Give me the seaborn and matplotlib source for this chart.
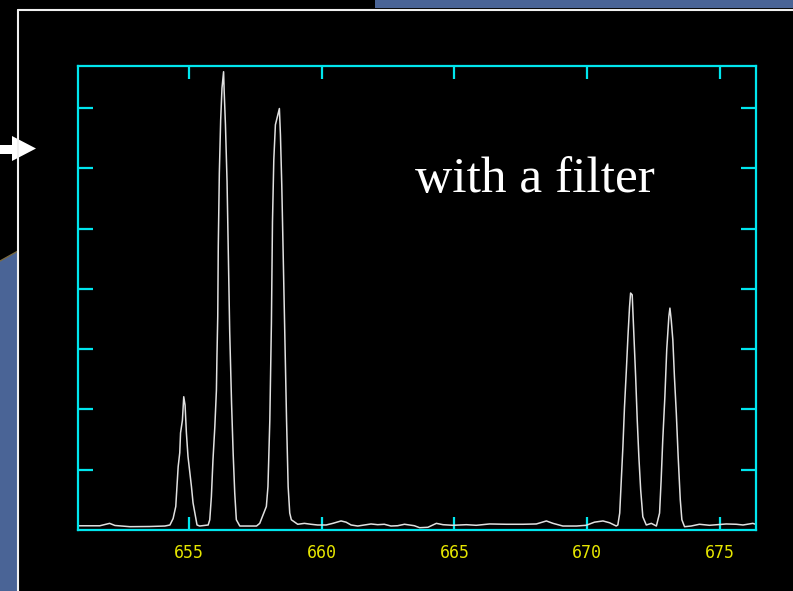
import matplotlib
matplotlib.use("Agg")
import matplotlib.pyplot as plt
from matplotlib.patches import Polygon, Rectangle
from matplotlib.lines import Line2D
import seaborn as sns
import pandas as pd

# Spectrum (wavelength in nm, intensity in tick units)
wavelength = [
    650.82, 651.65, 652.02, 652.22, 652.78, 653.53, 654.10, 654.29, 654.41, 654.51,
    654.60, 654.66, 654.69, 654.76, 654.79, 654.81, 654.86, 654.91, 654.97, 655.04,
    655.10, 655.16, 655.23, 655.31, 655.41, 655.73, 655.79, 655.85, 655.91, 655.98,
    656.04, 656.06, 656.09, 656.11, 656.15, 656.20, 656.25, 656.31, 656.33, 656.38,
    656.44, 656.49, 656.54, 656.61, 656.67, 656.73, 656.79, 656.92, 657.55, 657.67,
    657.92, 657.98, 658.05, 658.11, 658.15, 658.20, 658.26, 658.32, 658.41, 658.45,
    658.50, 658.55, 658.61, 658.68, 658.74, 658.80, 658.86, 659.05, 659.10, 659.35,
    659.60, 659.85, 660.17, 660.42, 660.73, 660.92, 661.11, 661.36, 661.61, 661.86,
    662.11, 662.36, 662.61, 662.86, 663.12, 663.49, 663.69, 664.00, 664.32, 664.57,
    664.94, 665.45, 665.82, 666.32, 666.95, 667.58, 668.08, 668.46, 668.71, 669.08,
    669.59, 669.96, 670.27, 670.59, 670.84, 671.09, 671.15, 671.22, 671.28, 671.34,
    671.40, 671.47, 671.53, 671.59, 671.63, 671.69, 671.74, 671.82, 671.88, 671.94,
    672.01, 672.09, 672.22, 672.41, 672.60, 672.72, 672.78, 672.84, 672.92, 672.99,
    673.07, 673.11, 673.16, 673.22, 673.28, 673.35, 673.42, 673.50, 673.56, 673.66,
    673.91, 674.22, 674.60, 675.23, 675.61, 675.86, 676.23, 676.33,
]
intensity = [
    0.07, 0.07, 0.11, 0.075, 0.055, 0.058, 0.066, 0.083, 0.19, 0.39,
    1.05, 1.28, 1.61, 1.82, 2.07, 2.21, 2.07, 1.61, 1.22, 0.95,
    0.72, 0.45, 0.28, 0.083, 0.066, 0.083, 0.17, 0.55, 1.16, 1.71,
    2.32, 2.87, 3.54, 4.70, 5.92, 6.80, 7.33, 7.60, 7.30, 6.72,
    5.78, 4.51, 3.29, 2.10, 1.27, 0.61, 0.17, 0.066, 0.066, 0.11,
    0.39, 0.72, 1.82, 3.43, 5.11, 6.14, 6.72, 6.83, 6.99, 6.55,
    5.72, 4.64, 3.43, 1.82, 0.72, 0.28, 0.17, 0.11, 0.095, 0.11,
    0.095, 0.083, 0.083, 0.11, 0.15, 0.13, 0.083, 0.066, 0.083, 0.10,
    0.088, 0.095, 0.066, 0.071, 0.095, 0.071, 0.038, 0.045, 0.11, 0.088,
    0.078, 0.088, 0.078, 0.10, 0.095, 0.095, 0.10, 0.15, 0.11, 0.066,
    0.066, 0.078, 0.13, 0.15, 0.12, 0.066, 0.083, 0.28, 0.83, 1.38,
    2.04, 2.65, 3.21, 3.70, 3.93, 3.90, 3.37, 2.54, 1.82, 1.22,
    0.66, 0.22, 0.083, 0.11, 0.066, 0.28, 0.83, 1.49, 2.21, 2.99,
    3.54, 3.68, 3.48, 3.15, 2.54, 1.94, 1.22, 0.50, 0.17, 0.055,
    0.066, 0.095, 0.078, 0.10, 0.095, 0.083, 0.11, 0.095,
]
x_ticks = [655, 660, 665, 670, 675]
x_tick_labels = ["655", "660", "665", "670", "675"]
y_ticks = [1, 2, 3, 4, 5, 6, 7]
label_text = "with a filter"

df = pd.DataFrame({"wavelength": wavelength, "intensity": intensity})

sns.set_theme(style="dark")
W, H = 793, 591
fig = plt.figure(figsize=(W / 100, H / 100), dpi=100, facecolor="black")

def fxy(x, y):
    return (x / W, 1 - y / H)

# slide background pieces
fig.patches.append(Rectangle(fxy(375, 8), (W - 375) / W, 8 / H, transform=fig.transFigure,
                             facecolor="#4a6496", edgecolor="none"))
fig.patches.append(Polygon([fxy(0, 261), fxy(18, 251), fxy(18, 591), fxy(0, 591)],
                           closed=True, transform=fig.transFigure,
                           facecolor="#4a6496", edgecolor="none"))
fig.lines.append(Line2D([0 / W, 18 / W], [1 - 261 / H, 1 - 251 / H], transform=fig.transFigure,
                        color="#7a6a40", lw=1))
fig.lines.append(Line2D([18 / W, 1], [1 - 9.5 / H, 1 - 9.5 / H], transform=fig.transFigure,
                        color="#f0f0f0", lw=1.5))
fig.lines.append(Line2D([18 / W, 18 / W], [1 - 9.5 / H, 0], transform=fig.transFigure,
                        color="#f0f0f0", lw=1.5))
# arrow
fig.patches.append(Polygon([fxy(0, 145), fxy(12, 145), fxy(12, 136), fxy(36, 148.5),
                            fxy(12, 161), fxy(12, 154), fxy(0, 154)],
                           closed=True, transform=fig.transFigure,
                           facecolor="white", edgecolor="none"))

ax = fig.add_axes([78 / W, 1 - 530 / H, (756 - 78) / W, (530 - 66) / H])
ax.set_facecolor("black")

sns.lineplot(data=df, x="wavelength", y="intensity", ax=ax, color="#e0e0e0",
             linewidth=1.1, estimator=None, sort=False)

ax.set_xlim(650.83, 676.35)
ax.set_ylim(0, 7.695)
ax.set_xlabel("")
ax.set_ylabel("")

cyan = "#00e6ee"
for s in ax.spines.values():
    s.set_visible(True)
    s.set_color(cyan)
    s.set_linewidth(1.6)

ax.set_xticks(x_ticks)
ax.set_xticklabels(x_tick_labels)
ax.set_yticks(y_ticks)
ax.set_yticklabels([])
ax.tick_params(axis="x", direction="in", length=9.5, width=1.6, color=cyan,
               top=True, bottom=True, labelcolor="#e6e600", labelsize=12, pad=10)
ax.tick_params(axis="y", direction="in", length=11, width=1.6, color=cyan,
               left=True, right=True)
for lab in ax.get_xticklabels():
    lab.set_family("DejaVu Sans Mono")
ax.grid(False)

fig.text(415 / W, 1 - 192 / H, label_text, color="white", fontsize=37,
         family="Liberation Serif", ha="left", va="baseline")

fig.savefig("out.png", dpi=100, facecolor="black")
